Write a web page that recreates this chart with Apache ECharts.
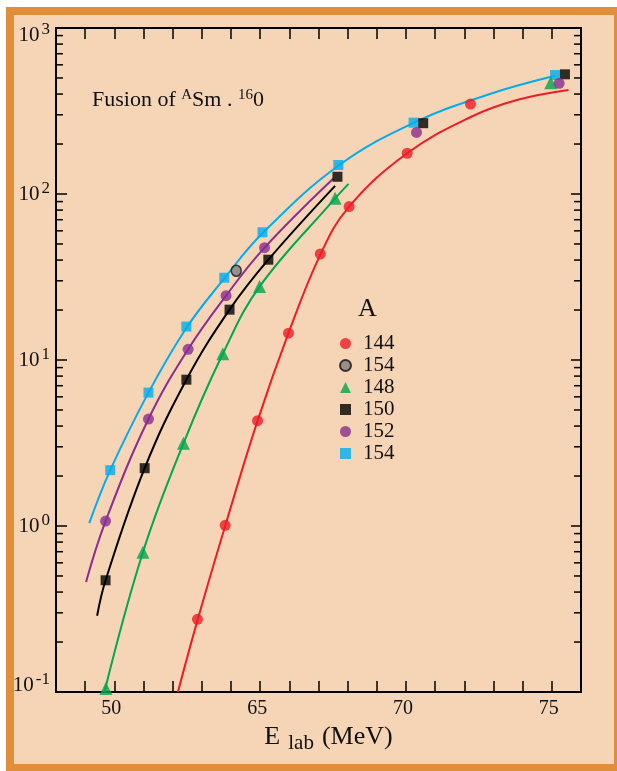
<!DOCTYPE html>
<html><head><meta charset="utf-8">
<script src="https://cdn.jsdelivr.net/npm/echarts@6/dist/echarts.min.js"></script>
<style>
html,body{margin:0;padding:0;background:#fff;width:617px;height:771px;overflow:hidden;}
#frame{position:absolute;left:6px;top:7px;width:600px;height:749px;border:8px solid #E08E39;background:#F5D5B6;}
#chart{position:absolute;left:0;top:0;width:617px;height:771px;}
</style></head>
<body><div id="frame"></div><div id="chart"></div>
<script>
// ---- data (E_lab in MeV, cross section) ----
const xTickLabels = {60:'50', 65:'65', 70:'70', 75:'75'};
const pts144 = [[62.85,0.274],[63.80,1.01],[64.91,4.31],[65.97,14.5],[67.06,43.5],[68.05,84],[70.04,176],[72.21,348]];
const pts154grey = [[64.18,34.5]];
const pts148 = [[59.71,0.105],[60.98,0.695],[62.37,3.15],[63.72,10.9],[64.98,27.7],[67.57,94.2],[74.96,468]];
const pts150 = [[59.70,0.471],[61.04,2.23],[62.47,7.61],[63.95,20.1],[65.28,40.2],[67.65,127],[70.59,267],[75.45,526]];
const pts152 = [[59.70,1.07],[61.17,4.41],[62.53,11.6],[63.83,24.4],[65.15,47.5],[70.36,235],[75.25,464]];
const pts154 = [[59.86,2.17],[61.17,6.36],[62.47,15.9],[63.77,31.3],[65.08,58.8],[67.68,149.5],[70.26,269],[75.11,521]];
// fitted curves
const curve144 = [[62.18,0.1],[62.85,0.27],[63.80,1.0],[64.91,4.3],[65.97,14.5],[67.06,43],[68.05,84],[70.04,176],[72.2,290],[73.8,368],[75.57,423]];
const curve148 = [[59.66,0.1],[60.98,0.695],[62.37,3.15],[63.72,10.9],[64.98,27.7],[67.57,94],[68.03,115]];
const curve150 = [[59.41,0.288],[59.70,0.471],[61.04,2.23],[62.47,7.61],[63.95,20.1],[65.28,40.2],[67.57,112]];
const curve152 = [[59.03,0.46],[59.70,1.07],[61.17,4.41],[62.53,11.6],[63.83,24.4],[65.15,47.5],[67.51,124]];
const curve154 = [[59.14,1.04],[59.86,2.17],[61.17,6.36],[62.47,15.6],[63.77,31],[65.08,58],[67.68,148],[70.26,268],[72.77,395],[75.11,515]];
const legendNames = ['144','154','148','150','152','154 '];
const minorTickValues = [];
for (let k=-1;k<=2;k++) for (let m=2;m<=9;m++) minorTickValues.push([58, m*Math.pow(10,k)]);

const FONT = 'Liberation Serif';
const INK = '#111';
const C = {red:'#EE1C25', green:'#00A650', black:'#000', purple:'#8B2C8F', blue:'#00ADEE', grey:'#808080'};

const chart = echarts.init(document.getElementById('chart'), null, {renderer:'canvas'});

function yFmt(v){
  const e = Math.round(Math.log10(v));
  const s = String(e);
  if (e === 3) return '{bt|10}{st|' + s + '}';
  if (e === -1) return '{bb|10}{sb|' + s + '}';
  return '{b|10}{s|' + s + '}';
}
const yRich = {
  b:{fontSize:21, fontFamily:FONT, color:INK},
  s:{fontSize:17, fontFamily:FONT, color:INK, padding:[0,0,10,2]},
  bt:{fontSize:21, fontFamily:FONT, color:INK, padding:[14,0,0,0]},
  st:{fontSize:17, fontFamily:FONT, color:INK, padding:[14,0,10,2]},
  bb:{fontSize:21, fontFamily:FONT, color:INK, padding:[0,0,14,0]},
  sb:{fontSize:17, fontFamily:FONT, color:INK, padding:[0,0,24,2]}
};

const axisCommon = {
  axisLine:{show:true, onZero:false, lineStyle:{color:'#000', width:2}},
  axisTick:{show:true, inside:true, length:11, lineStyle:{color:'#000', width:1.5}},
  splitLine:{show:false}
};

function lineSeries(name, data, color){
  return {name, type:'line', data, smooth:0.4, symbol:'none', showSymbol:false, silent:true,
    lineStyle:{color, width:2}, z:3, xAxisIndex:0, yAxisIndex:0};
}
function scatterSeries(name, data, symbol, size, itemStyle){
  return {name, type:'scatter', data, symbol, symbolSize:size, itemStyle, z:5, xAxisIndex:0, yAxisIndex:0};
}

chart.setOption({
  animation:false,
  backgroundColor:'transparent',
  grid:{left:56, right:36, top:28, bottom:79, containLabel:false},
  xAxis:[
    Object.assign({type:'value', min:58, max:76, interval:1, position:'bottom',
      axisLabel:{show:true, margin:7, fontSize:20, fontFamily:FONT, color:INK, padding:[0,6,0,0],
        formatter:v => xTickLabels[Math.round(v)] || ''},
      name:'{e|E}{l|lab}{e|(MeV)}', nameLocation:'middle', nameGap:29,
      nameTextStyle:{padding:[0,0,0,20], rich:{
        e:{fontSize:26, fontFamily:FONT, color:INK},
        l:{fontSize:21, fontFamily:FONT, color:INK, padding:[12,8,0,8]}
      }}}, axisCommon),
    Object.assign({type:'value', min:58, max:76, interval:1, position:'top', axisLabel:{show:false}}, axisCommon)
  ],
  yAxis:[
    Object.assign({type:'log', logBase:10, min:0.1, max:1000, position:'left',
      axisLabel:{show:true, margin:6, formatter:yFmt, rich:yRich}}, axisCommon),
    Object.assign({type:'log', logBase:10, min:0.1, max:1000, position:'right', axisLabel:{show:false}}, axisCommon,
      {axisTick:{show:true, inside:true, length:10, lineStyle:{color:'#000', width:1.5}}})
  ],
  legend:{
    orient:'vertical', left:339, top:333, padding:0,
    itemWidth:11, itemHeight:11, itemGap:1,
    data:legendNames,
    formatter:n => n.trim(),
    textStyle:{fontSize:21, fontFamily:FONT, color:INK, lineHeight:14, padding:[0,0,0,7]}
  },
  graphic:[
    {type:'text', left:92, top:88, silent:true, style:{
      text:'{n|Fusion of }{s|A}{n|Sm . }{s|16}{n|0}',
      rich:{
        n:{fontSize:22, fontFamily:FONT, fill:INK, color:INK},
        s:{fontSize:15, fontFamily:FONT, fill:INK, color:INK, padding:[0,0,10,0]}
      }}},
    {type:'text', left:358, top:296, silent:true, style:{text:'A', fontSize:26, fontFamily:FONT, fill:INK}}
  ],
  series:[
    {type:'custom', silent:true, z:2, clip:false, data:minorTickValues, xAxisIndex:0, yAxisIndex:0,
      renderItem:function(params, api){
        const v = api.value(1);
        const pl = api.coord([58, v]);
        const pr = api.coord([76, v]);
        return {type:'group', children:[
          {type:'line', shape:{x1:pl[0], y1:pl[1], x2:pl[0]+7, y2:pl[1]}, style:{stroke:'#000', lineWidth:1.5}},
          {type:'line', shape:{x1:pr[0], y1:pr[1], x2:pr[0]-7, y2:pr[1]}, style:{stroke:'#000', lineWidth:1.5}}
        ]};
      }},
    lineSeries('c144', curve144, C.red),
    lineSeries('c148', curve148, C.green),
    lineSeries('c150', curve150, C.black),
    lineSeries('c152', curve152, C.purple),
    lineSeries('c154', curve154, C.blue),
    scatterSeries('144', pts144, 'circle', 11, {color:C.red}),
    scatterSeries('154 ', pts154, 'rect', 10, {color:C.blue}),
    scatterSeries('150', pts150, 'rect', 10, {color:C.black}),
    scatterSeries('148', pts148, 'triangle', 13, {color:C.green}),
    scatterSeries('152', pts152, 'circle', 11, {color:C.purple}),
    scatterSeries('154', pts154grey, 'circle', [10,11], {color:C.grey, borderColor:'#111', borderWidth:1.5})
  ]
});
</script>
</body></html>
